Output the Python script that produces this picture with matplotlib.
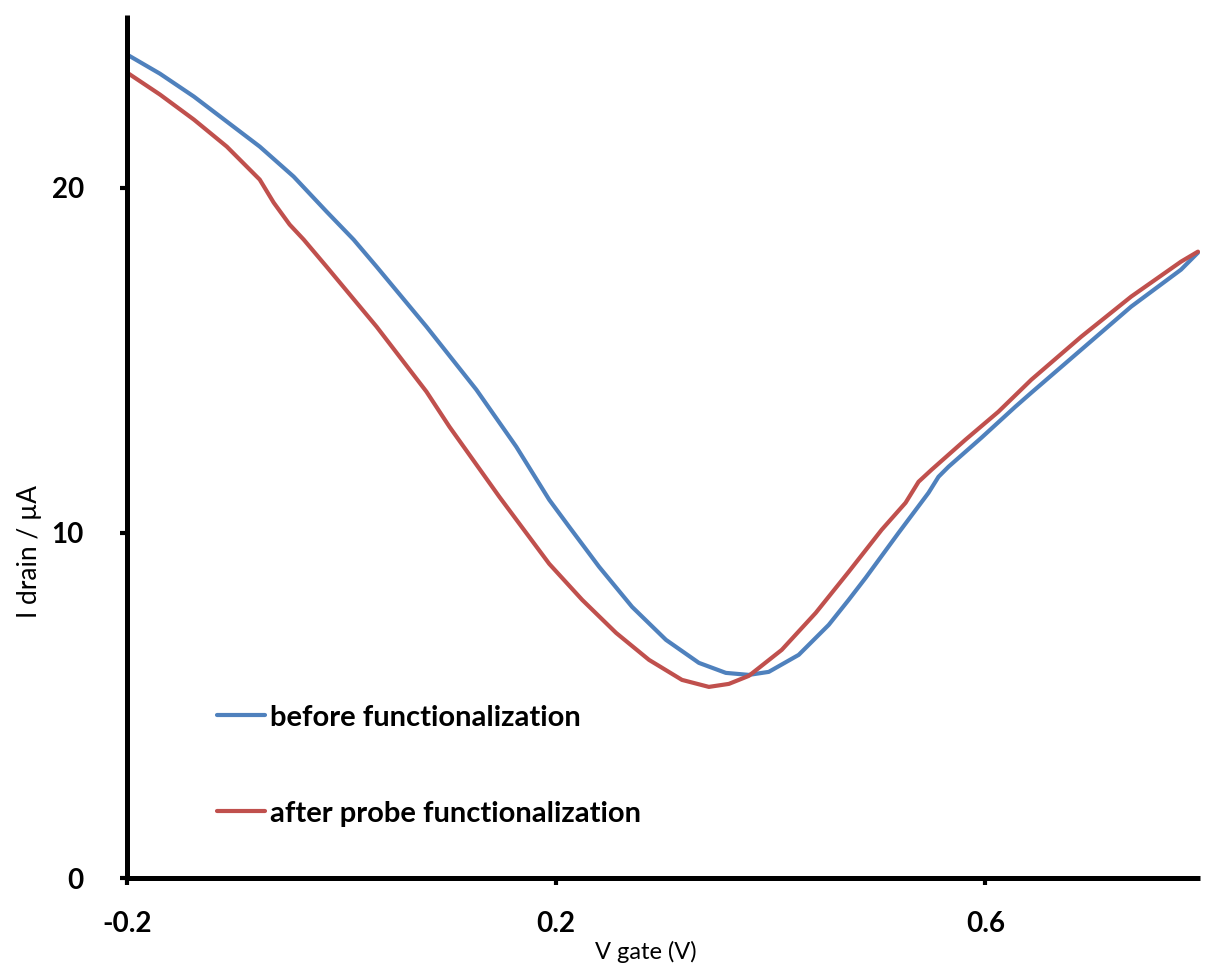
import matplotlib
matplotlib.use("Agg")
import matplotlib.pyplot as plt

# Data
v_before = [-0.2000, -0.1693, -0.1377, -0.1070, -0.0763, -0.0447, -0.0140, 0.0112, 0.0326,
            0.0791, 0.1256, 0.1628, 0.1935, 0.2121, 0.2400, 0.2707, 0.3023, 0.3330,
            0.3581, 0.3795, 0.3981, 0.4260, 0.4540, 0.4726, 0.4884, 0.5191, 0.5470,
            0.5563, 0.5656, 0.5963, 0.6279, 0.6428, 0.6893, 0.7358, 0.7823, 0.7981]
i_before = [23.855, 23.300, 22.638, 21.913, 21.188, 20.319, 19.304, 18.493, 17.710,
            15.971, 14.145, 12.493, 10.957, 10.174, 9.014, 7.855, 6.899, 6.232,
            5.942, 5.884, 5.971, 6.464, 7.333, 8.058, 8.696, 10.000, 11.159,
            11.623, 11.913, 12.754, 13.652, 14.058, 15.304, 16.551, 17.623, 18.116]

v_after = [-0.2000, -0.1693, -0.1377, -0.1070, -0.0763, -0.0633, -0.0484, -0.0353, -0.0140,
           0.0326, 0.0791, 0.1005, 0.1470, 0.1935, 0.2242, 0.2558, 0.2865, 0.3172,
           0.3423, 0.3609, 0.3795, 0.4102, 0.4419, 0.4726, 0.5033, 0.5256, 0.5377,
           0.5498, 0.5814, 0.6121, 0.6428, 0.6893, 0.7358, 0.7823, 0.7981]
i_after = [23.333, 22.696, 21.971, 21.188, 20.232, 19.565, 18.928, 18.493, 17.710,
           15.971, 14.087, 13.072, 11.043, 9.101, 8.058, 7.101, 6.319, 5.739,
           5.536, 5.623, 5.855, 6.609, 7.681, 8.870, 10.087, 10.870, 11.478,
           11.826, 12.696, 13.507, 14.435, 15.681, 16.841, 17.855, 18.145]

x_ticks = [-0.2, 0.2, 0.6]
x_tick_labels = ["-0.2", "0.2", "0.6"]
y_ticks = [0, 10, 20]
y_tick_labels = ["0", "10", "20"]

labels = ["before functionalization", "after probe functionalization"]
colors = ["#4F81BD", "#C0504D"]

W, H = 1207, 972
fig = plt.figure(figsize=(W / 100, H / 100), dpi=100)
ax = fig.add_axes([127 / W, 1 - 878 / H, (1200 - 127) / W, (878 - 15) / H])

for v, i, c, lab in [(v_before, i_before, colors[0], labels[0]),
                     (v_after, i_after, colors[1], labels[1])]:
    ax.plot(v, i, color=c, lw=3.0, label=lab, solid_capstyle="round",
            solid_joinstyle="round")

ax.set_xlim(-0.2, 0.8)
ax.set_ylim(0, 25)

for s in ["top", "right"]:
    ax.spines[s].set_visible(False)
for s in ["left", "bottom"]:
    ax.spines[s].set_linewidth(3.6)
    ax.spines[s].set_color("black")
    ax.spines[s].set_capstyle("butt")

tickfont = dict(family=["Lato", "DejaVu Sans"], weight="bold", size=20)
ax.set_xticks(x_ticks)
ax.set_xticklabels(x_tick_labels, **tickfont)
ax.set_yticks(y_ticks)
ax.set_yticklabels(y_tick_labels, **tickfont)
ax.tick_params(axis="x", direction="out", length=5, width=3, pad=19)
ax.tick_params(axis="y", direction="out", length=5, width=3, pad=26)

fig.text(646 / W, 1 - 952 / H, "V gate (V)", ha="center", va="center",
         family=["Lato", "DejaVu Sans"], fontsize=17)
fig.text(29 / W, 1 - 551 / H, "I drain / µA", ha="center", va="center", rotation=90,
         family=["Lato", "DejaVu Sans"], fontsize=19)

leg = ax.legend(loc="center left", bbox_to_anchor=(217 / W, 1 - 765.5 / H),
                bbox_transform=fig.transFigure, frameon=False,
                prop=dict(family=["Lato", "DejaVu Sans"], weight="bold", size=21),
                handlelength=1.65, handletextpad=0.17, labelspacing=2.4,
                borderpad=0, borderaxespad=0)

fig.savefig("out.png", dpi=100, facecolor="white")
